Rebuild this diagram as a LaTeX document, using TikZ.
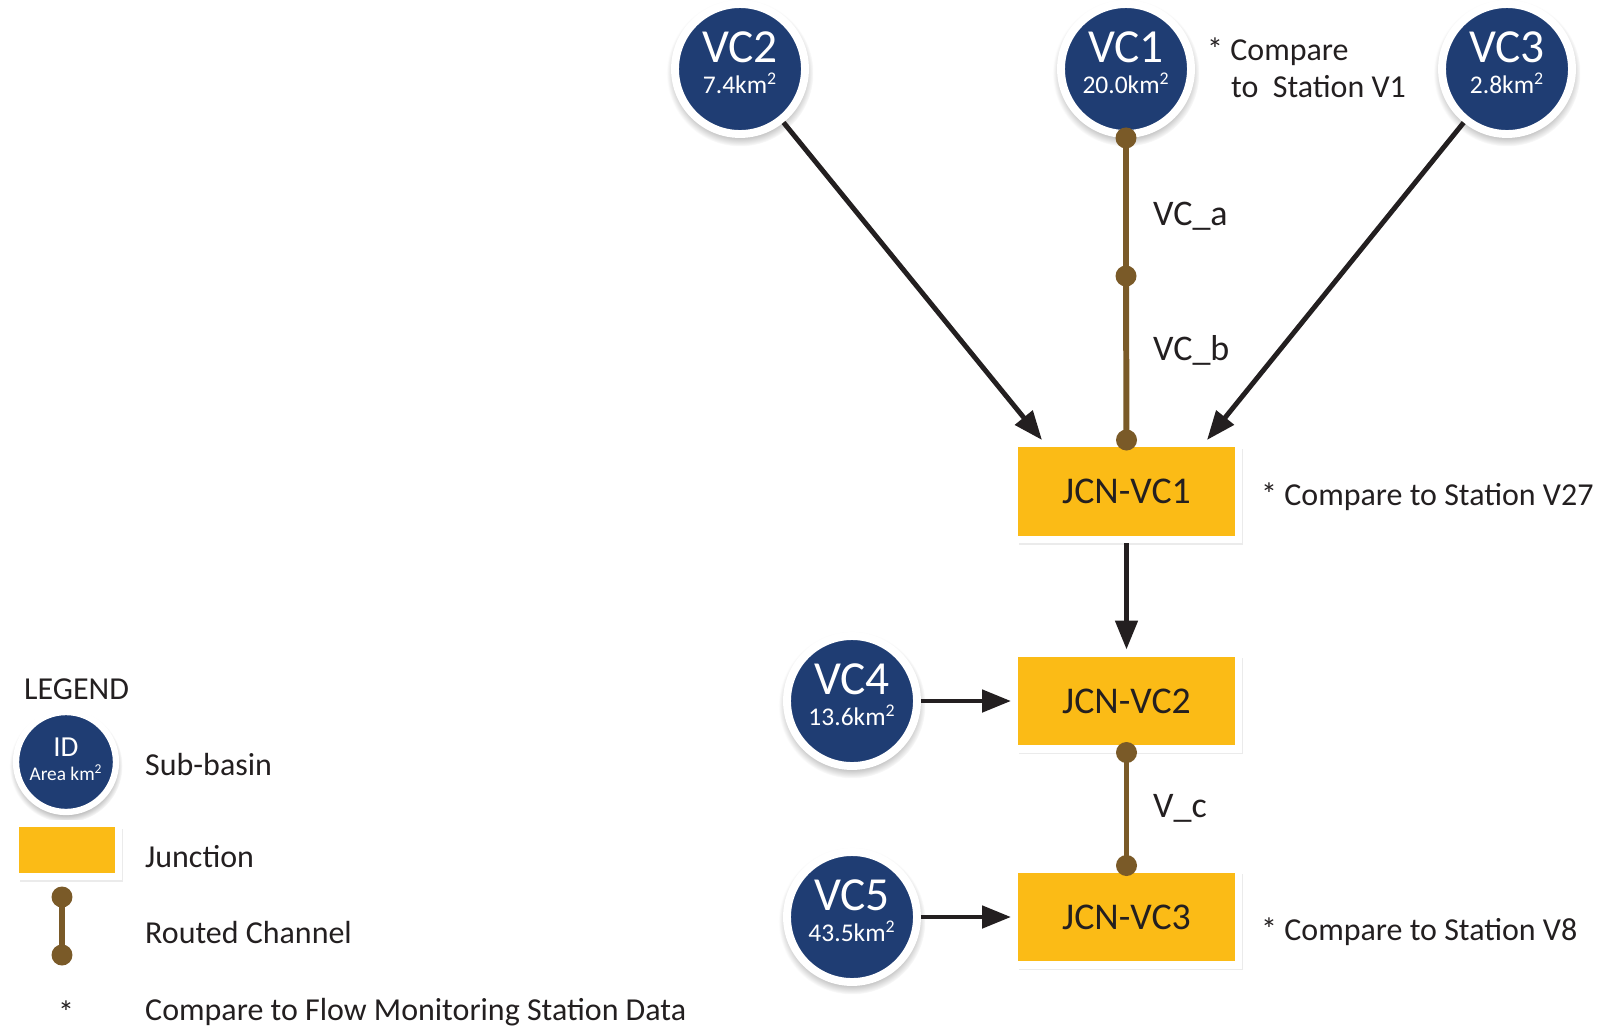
\documentclass[tikz,border=0pt]{standalone}
\usepackage{fontspec}
\setmainfont{Carlito}
\usetikzlibrary{arrows.meta,shadows,positioning,calc}
\definecolor{basinblue}{HTML}{1F3D73}
\definecolor{jcnyellow}{HTML}{FBBB16}
\definecolor{chanbrown}{HTML}{7A5A28}
\definecolor{inkdark}{HTML}{231F20}
\newcommand\basintext[2]{{\fontsize{27}{27}\selectfont #1}\\[6pt]%
  {\fontsize{14.5}{15}\selectfont #2km\textsuperscript{2}\rule[-0.25cm]{0pt}{0.25cm}}}

\begin{document}
\begin{tikzpicture}[x=0.02cm, y=-0.02cm, >={Triangle[length=0.58cm,width=0.44cm]},
    basin/.style={circle, fill=basinblue, draw=white, line width=4.5pt,
      minimum size=2.6cm, inner sep=0pt, text=white, align=center,
      circular drop shadow={shadow xshift=0pt, shadow yshift=-2pt,
        shadow scale=1.13, opacity=0.55}},
    junction/.style={rectangle, fill=jcnyellow, draw=white, line width=4pt,
      minimum width=4.48cm, minimum height=1.92cm, inner sep=0pt, text=inkdark,
      font=\fontsize{21.5}{22}\selectfont,
      drop shadow={shadow xshift=2.6pt, shadow yshift=-3pt, opacity=0.16}},
    flow/.style={draw=inkdark, line width=2.8pt, ->},
    channel/.style={draw=chanbrown, line width=3.4pt},
    chanlbl/.style={anchor=base west, text=inkdark, font=\fontsize{20.5}{21}\selectfont},
    note/.style={anchor=base west, text=inkdark, font=\fontsize{18.2}{21}\selectfont},
    legtxt/.style={anchor=base west, text=inkdark, font=\fontsize{18.2}{19}\selectfont}]
  \useasboundingbox (0,0) rectangle (1607,1029);

  %% Sub-basins
  \node[basin] (vc2) at (740,69) {\basintext{VC2}{7.4}};
  \node[basin] (vc1) at (1126,69) {\basintext{VC1}{20.0}};
  \node[basin] (vc3) at (1507,69) {\basintext{VC3}{2.8}};
  \node[basin] (vc4) at (852,701) {\basintext{VC4}{13.6}};
  \node[basin] (vc5) at (852,917) {\basintext{VC5}{43.5}};

  %% Junctions
  \node[junction] (jcn1) at (1126.5,491.5) {JCN-VC1};
  \node[junction] (jcn2) at (1126.5,701) {JCN-VC2};
  \node[junction] (jcn3) at (1126.5,917) {JCN-VC3};

  %% Routed channels
  \coordinate (mida) at (1126,276);
  \draw[channel] (vc1.south) -- (mida) -- (jcn1.north);
  \draw[channel] (jcn2.south) -- (jcn3.north);
  \node[chanlbl] (lbla) at (1147,225) {VC\_a};
  \node[chanlbl] (lblb) at (1147,360) {VC\_b};
  \node[chanlbl] (lblc) at (1147,817) {V\_c};

  %% Flow arrows
  \coordinate (inl) at ($(jcn1.north west)+(31,0)$);
  \coordinate (inr) at ($(jcn1.north east)+(-35,0)$);
  \draw[flow] (vc2) -- (inl);
  \draw[flow] (vc3) -- (inr);
  \draw[flow] (jcn1.south) -- (jcn2.north);
  \draw[flow] (vc4) -- (jcn2);
  \draw[flow] (vc5) -- (jcn3);

  %% Station notes
  \node[note, align=left] (notev1) at (1201,97)
    {* Compare\\\hspace*{0.75em}to~~Station V1};
  \node[note] (notev27) at (1255,505) {* Compare to Station V27};
  \node[note] (notev8) at (1255,940) {* Compare to Station V8};

  %% Legend
  \node[legtxt] (legend) at (18,699) {LEGEND};
  \node[basin, minimum size=2.0cm, line width=3.6pt] (lgbasin) at (66,762)
    {{\fontsize{16.5}{16}\selectfont ID}\\[2pt]{\fontsize{11}{11}\selectfont Area km\textsuperscript{2}\rule[-0.12cm]{0pt}{0.12cm}}};
  \node[junction, minimum width=2.06cm, minimum height=1.06cm] (lgjcn) at (67,850) {};
  \coordinate (lgtop) at (62,897);
  \coordinate (lgbot) at (62,955);
  \draw[channel] (lgtop) -- (lgbot);
  \node[legtxt, anchor=north, inner sep=0pt] (lgstar) at (66,1000) {*};
  \node[legtxt] (txbasin) at (139,775) {Sub-basin};
  \node[legtxt] (txjcn) at (139,867) {Junction};
  \node[legtxt] (txchan) at (139,943) {Routed Channel};
  \node[legtxt] (txstar) at (139,1020) {Compare to Flow Monitoring Station Data};

  %% Channel dots
  \foreach \p in {vc1.south, mida, jcn1.north, jcn2.south, jcn3.north, lgtop, lgbot}{
    \fill[chanbrown] (\p) circle (0.21cm);
  }
\end{tikzpicture}
\end{document}
